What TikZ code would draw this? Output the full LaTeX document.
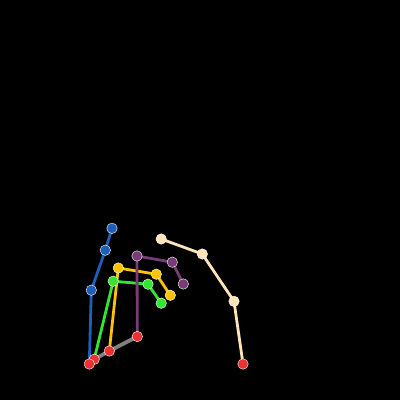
\documentclass[tikz,border=0pt]{standalone}
\usetikzlibrary{backgrounds}
\begin{document}
\begin{tikzpicture}[x=1pt,y=-1pt,
  bone/.style={line width=2.8pt},
  palm/.style={line width=3.8pt},
  joint/.style={circle,draw=white,line width=0.4pt,inner sep=0pt,minimum size=10.5pt},
  ]
\definecolor{kpblue}{RGB}{31,95,185}
\definecolor{kpgreen}{RGB}{50,230,50}
\definecolor{kpyellow}{RGB}{255,195,0}
\definecolor{kppurple}{RGB}{120,60,120}
\definecolor{kpcream}{RGB}{255,228,185}
\definecolor{kpred}{RGB}{235,50,50}
\definecolor{kpgray}{RGB}{128,128,128}
\useasboundingbox (0,0) rectangle (400,400);
% joints
\node[joint,fill=kpblue] (b1) at (91.3,290.2) {};
\node[joint,fill=kpblue] (b2) at (105.3,250.2) {};
\node[joint,fill=kpblue] (b3) at (112,228.3) {};
\node[joint,fill=kpgreen] (g1) at (113.2,281.2) {};
\node[joint,fill=kpgreen] (g2) at (148,284.2) {};
\node[joint,fill=kpgreen] (g3) at (161.2,303.2) {};
\node[joint,fill=kpyellow] (y1) at (118.3,268) {};
\node[joint,fill=kpyellow] (y2) at (156.3,274.2) {};
\node[joint,fill=kpyellow] (y3) at (170.3,295.3) {};
\node[joint,fill=kppurple] (p1) at (137,256) {};
\node[joint,fill=kppurple] (p2) at (172.3,262.2) {};
\node[joint,fill=kppurple] (p3) at (183.3,284) {};
\node[joint,fill=kpcream] (c1) at (234,301.3) {};
\node[joint,fill=kpcream] (c2) at (202.3,254) {};
\node[joint,fill=kpcream] (c3) at (161.2,239) {};
\node[joint,fill=kpred] (r4) at (137.3,336.5) {};
\node[joint,fill=kpred] (r3) at (109.3,351) {};
\node[joint,fill=kpred] (r2) at (94.2,359.3) {};
\node[joint,fill=kpred] (r1) at (89.3,364) {};
\node[joint,fill=kpred] (r5) at (243,364) {};
% background and bones, under the joints
\begin{pgfonlayer}{background}
\fill[black] (0,0) rectangle (400,400);
\draw[palm,kpgray] (r2.center) -- (r3.center) -- (r4.center);
\draw[bone,kpblue] (r1.center) -- (b1.center) -- (b2.center) -- (b3.center);
\draw[bone,kpgreen] (r2.center) -- (g1.center) -- (g2.center) -- (g3.center);
\draw[bone,kpyellow] (r3.center) -- (y1.center) -- (y2.center) -- (y3.center);
\draw[bone,kppurple] (r4.center) -- (p1.center) -- (p2.center) -- (p3.center);
\draw[bone,kpcream] (r5.center) -- (c1.center) -- (c2.center) -- (c3.center);
\end{pgfonlayer}
\end{tikzpicture}
\end{document}
